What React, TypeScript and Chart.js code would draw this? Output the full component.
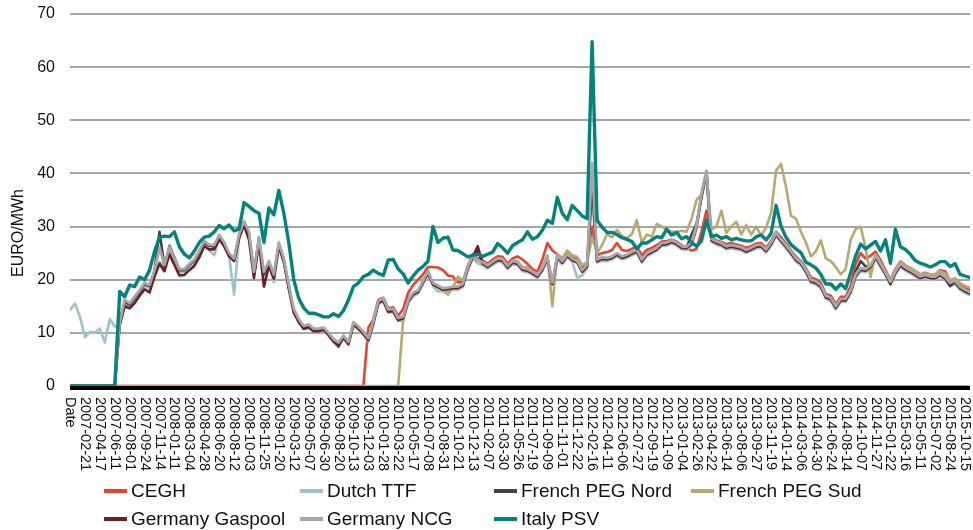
import React, { useEffect, useRef } from 'react';
import { Chart, registerables } from 'chart.js';

Chart.register(...registerables);

const tickLabels = ['Date','2007-02-21','2007-04-17','2007-06-11','2007-08-01','2007-09-24','2007-11-14','2008-01-11','2008-03-04','2008-04-28','2008-06-20','2008-08-12','2008-10-03','2008-11-25','2009-01-20','2009-03-12','2009-05-07','2009-06-30','2009-08-20','2009-10-13','2009-12-03','2010-01-28','2010-03-22','2010-05-17','2010-07-08','2010-08-31','2010-10-21','2010-12-13','2011-02-07','2011-03-30','2011-05-26','2011-07-19','2011-09-09','2011-11-01','2011-12-22','2012-02-16','2012-04-11','2012-06-06','2012-07-27','2012-09-19','2012-11-09','2013-01-04','2013-02-26','2013-04-22','2013-06-14','2013-08-06','2013-09-27','2013-11-19','2014-01-14','2014-03-06','2014-04-30','2014-06-24','2014-08-14','2014-10-07','2014-11-27','2015-01-22','2015-03-16','2015-05-11','2015-07-02','2015-08-24','2015-10-15'];

// samples between two consecutive tick labels
const samplesPerTick = 3;

const cegh = [
  0,0,0,0,0,0,0,0,0,0, 0,0,0,0,0,0,0,0,0,0, 0,0,0,0,0,0,0,0,0,0,
  0,0,0,0,0,0,0,0,0,0, 0,0,0,0,0,0,0,0,0,0, 0,0,0,0,0,0,0,0,0,0,
  11,12.5,16.2,16.6,14.6,14.8,13.2,14.5,17.5,19,
  20,21,22.4,22.4,22.3,21.8,20.8,20.6,19.5,19.6,
  22.6,24.8,24,23.6,23,23.8,24.4,24.3,23,24,
  24.4,23.8,23,22,21.5,23.8,26.9,25.5,24.8,24,
  25.2,24.4,24,22.4,23.3,30,24.6,25,25.2,25.6,
  26.9,25.6,25.4,25.8,26.2,24.6,25.6,26,26.5,27.2,
  27.3,27.5,27.2,26.5,26,25.5,25.8,29,33,28,
  27.4,27.1,26.7,26.9,26.6,26.4,26,26.3,26.8,26.9,
  26,27.3,29,28,26.8,25.5,24.3,23.5,22.2,20.4,
  20.1,19.4,17.3,17,15.4,16.8,16.8,18.8,23,25,
  24,24.5,25.3,23.7,21.8,20,22,23.4,22.7,22.2,
  21.6,21,21.3,21,21,21.8,21.6,19.8,20.2,19.1,18.5,18.1
];

const dutchTTF = [
  14.3,15.5,13,9.2,10.2,10,10.8,8.2,12.6,11.2,
  11.5,15.5,15,16.2,17.4,18.8,18.4,21.2,23.4,22.2,
  25.6,23.4,21.4,21.4,22.4,23.2,24.8,26.7,25.5,24.6,
  27.8,26.4,24.4,17.2,27.9,30.4,28.4,21,27.4,20.9,
  22.9,19.5,26.4,23.4,18.4,14,12,10.7,11,10.2,
  10.2,10.4,9.4,8.2,7.6,8.9,7.7,11.4,10.6,9.6,
  8.4,11.6,15.4,15.9,13.8,13.9,12.2,12.4,15.6,16.9,
  17.4,19.2,21,18.8,17.8,17.8,17.9,18.1,18.1,18.6,
  21.8,24,23.1,22.7,22.1,22.8,23.4,23.3,22,22.9,
  22.7,21.6,21.4,20.9,20.3,21.6,23.7,19,23.9,22.9,
  24.2,23.4,20.4,20.8,22.2,36,23.2,23.6,23.5,23.8,
  24.4,23.8,24.1,24.6,25,23.2,24.4,24.9,25.4,26.3,
  26.4,26.8,26.4,25.7,25.6,26.4,29.6,35.7,39.9,27.1,
  26.6,26.3,25.7,25.9,25.7,25.5,25,25.4,25.9,26,
  25.1,26.4,28.2,27,25.9,24.7,23.4,22.7,21.3,19.4,
  19.1,18.4,16.4,16,14.4,15.8,15.8,17.4,20.4,21.6,
  21.4,22.1,23.9,22.4,20.8,19,21,22.4,21.7,21.2,
  20.6,20,20.3,20,20,20.6,19.9,18.8,19.2,18.1,17.5,17.1
];

const frenchPEGNord = [
  0,0,0,0,0,0,0,0,0,0,
  12.2,15.8,15.3,16.6,17.8,19.2,18.8,21.6,29,22.5,
  26.4,24.2,21.8,21.8,22.8,23.6,25.2,27,26.4,26.2,
  28.2,26.8,24.8,23.8,28.2,30.8,28.6,21.2,27.7,21,
  23.2,20.8,26.7,23.7,18.8,14.2,12.4,11.1,11.4,10.6,
  10.6,10.8,9.8,8.5,7.4,9.3,8.1,11.8,11,10,
  8.8,12,15.8,16.3,14.2,14.3,12.6,12.8,16,17.3,
  17.8,19.6,21.4,19.2,18.7,18.2,18.3,18.5,18.5,19,
  22.2,24.4,25.5,23.1,22.5,23.2,23.8,23.7,22.4,23.3,
  23.1,22,21.8,21.3,20.7,22,24.1,19.3,24.3,23.3,
  24.6,23.8,23.3,21.6,22.6,38,23.6,24,23.9,24.2,
  24.8,24.2,24.5,25,25.4,23.6,24.8,25.3,25.8,26.7,
  26.8,27.2,26.8,26.1,26,28.5,30.5,35.5,40,27.5,
  27,26.7,26.1,26.3,26.1,25.9,25.4,25.8,26.3,26.4,
  25.5,26.8,28.6,27.4,26.3,25.1,23.8,23.1,21.7,19.8,
  19.5,18.8,16.8,16.4,14.8,16.2,16.2,17.8,21.5,23.5,
  22.5,22.5,24.3,22.8,21.2,19.4,21.4,22.8,22.1,21.6,
  21,20.4,20.7,20.4,20.4,21,20.3,18.8,19.6,18.5,17.9,17.5
];

const frenchPEGSud = [
  0,0,0,0,0,0,0,0,0,0, 0,0,0,0,0,0,0,0,0,0, 0,0,0,0,0,0,0,0,0,0,
  0,0,0,0,0,0,0,0,0,0, 0,0,0,0,0,0,0,0,0,0, 0,0,0,0,0,0,0,0,0,0,
  0,0,0,0,0,0,0,
  12.5,16,17.5,
  18,19.5,21.2,19.4,18.6,18,17.2,18.5,20.6,19.8,
  22.2,24.5,23.6,23.3,22.6,23.4,23.9,23.2,22.3,23.6,
  23.5,22.4,22.3,21.6,21,22.4,24.6,15,24.8,24,
  25.5,24.6,24.3,22.8,23.2,28,25,26.5,28.6,28,
  29.4,28.2,27.8,28.6,31.2,27,28.5,28.1,30.5,30,
  29.5,29,29,29.2,29,31.5,35,36,40,29.5,
  30,33,28.8,30,30.9,28.5,30.3,28.5,30,28.3,
  29.8,32.6,40.5,41.8,37.5,32,31.5,29,27,24.4,
  25.3,27.4,24,23.5,22.4,21,22,27.5,29.5,30,
  26,20.5,24.8,23.2,21.6,20,22,23.2,22.6,22.3,
  21.6,21,21.2,21,21,21.6,21.2,20,20.2,19.4,18.8,18.5
];

const germanyGaspool = [
  0,0,0,0,0,0,0,0,0,0,
  11.5,15,14.6,15.6,17,18.2,17.6,20.6,23,21.6,
  24.8,22.8,20.8,20.9,21.8,22.6,24.2,26.3,25.7,25.7,
  27.6,26.3,24.4,23.5,27.8,30.3,27.5,20.3,27,18.7,
  22.6,20.2,26.2,23.4,18.3,13.8,12,10.8,11,10.3,
  10.3,10.6,9.6,8.4,7.8,9.1,7.9,11.6,10.8,9.8,
  8.6,11.8,15.6,16.1,14,14.1,12.4,12.7,15.9,17.2,
  17.7,19.5,21.3,19.1,18.6,18.1,18.2,18.4,18.4,18.9,
  22.1,24.3,26.3,23,22.4,23.1,23.7,23.6,22.3,23.2,
  23,21.9,21.7,21.2,20.6,21.9,24,19.2,24.2,23.2,
  24.5,23.7,23.2,21.5,22.5,40,23.5,23.9,23.8,24.1,
  24.7,24.1,24.4,24.9,25.3,23.5,24.7,25.2,25.7,26.6,
  26.7,27.1,26.7,26,25.9,26.7,29.9,36,40.2,27.4,
  26.9,26.6,26,26.2,26,25.8,25.3,25.7,26.2,26.3,
  25.4,26.7,28.5,27.3,26.2,25,23.7,23,21.6,19.7,
  19.4,18.7,16.7,16.3,14.7,16.1,16.1,17.7,20.7,21.9,
  21.7,22.4,24.2,22.7,21.1,19.2,21.3,22.7,22,21.5,
  20.9,20.3,20.6,20.3,20.3,20.9,20.2,19.1,19.5,18.4,17.8,17.4
];

const germanyNCG = [
  0,0,0,0,0,0,0,0,0,0,
  12,16.2,15.6,16.8,18,19.4,19,21.8,26,22.8,
  26.2,24,22,22,23,23.8,25.4,27.3,26.6,26.5,
  28.4,27,25,24,28.5,31,29,21.5,28,21.5,
  23.5,21,27,24,19,14.5,12.6,11.3,11.6,10.8,
  10.8,11,10,8.8,8.2,9.5,8.3,12,11.2,10.2,
  9,12.2,16,16.5,14.4,14.5,12.8,13,16.2,17.5,
  18,19.8,21.6,19.4,18.9,18.4,18.5,18.7,18.7,19.2,
  22.4,24.6,23.7,23.3,22.7,23.4,24,23.9,22.6,23.5,
  23.3,22.2,22,21.5,20.9,22.2,24.3,19.5,24.5,23.5,
  24.8,24,23.5,21.8,22.8,42,23.8,24.2,24.1,24.4,
  25,24.4,24.7,25.2,25.6,23.8,25,25.5,26,26.9,
  27,27.4,27,26.3,26.2,27,30.2,36.3,40.5,27.7,
  27.2,26.9,26.3,26.5,26.3,26.1,25.6,26,26.5,26.6,
  25.7,27,28.8,27.6,26.5,25.3,24,23.3,21.9,20,
  19.7,19,17,16.6,15,16.4,16.4,18,21,22.2,
  22,22.7,24.5,23,21.4,19.6,21.6,23,22.3,21.8,
  21.2,20.6,20.9,20.6,20.6,21.2,20.5,19.4,19.8,18.7,18.1,17.7
];

const italyPSV = [
  0,0,0,0,0,0,0,0,0,0,
  17.8,16.8,19,18.7,20.5,20,21.8,25.3,28,28.2,
  28.1,29,26.2,24.8,24.1,25.4,27,28,28.2,29,
  30.2,29.6,30.3,29.2,29.5,34.5,33.8,33,32.5,27,
  33.5,32.2,36.8,32.5,27,20,16.5,14.7,13.7,13.7,
  13.4,13,13,13.6,13.1,14.2,16.2,18.7,19.4,20.6,
  21,21.8,21.2,20.8,23.7,23.8,22,21.1,19.4,20.7,
  21.8,22.5,23.5,30,27,27.8,28,25.6,25.5,24.9,
  24.3,24.6,24.8,24.4,24.8,25.2,26.8,26,25,26.4,
  27,27.5,29,27.6,28.1,29.3,31.2,30.6,35.5,32.5,
  31.3,34,33,32,31.5,64.8,31.2,29.9,28.9,28.9,
  28.5,27.9,27.6,27.2,25.8,26.9,26.9,27.5,28.1,27.9,
  29.5,28.4,28.9,27.7,28.1,27,26.3,27.3,31.2,28.1,
  28.4,27.8,28.1,27.5,27.8,27.5,27.3,27.3,28.1,28.4,
  27.5,28.7,34,30,28,26.6,25.8,25.1,23.3,22.8,
  22.2,21,19.2,19.2,18.2,19.2,18.3,21.3,24.5,26.7,
  25.8,26.5,27.2,25.4,27.5,23.1,29.5,26.2,25.7,24.8,
  23.6,23.1,22.8,22.4,22.8,23.4,23.4,22.5,23,21,20.7,20.4
];

const seriesNames = ['CEGH', 'Dutch TTF', 'French PEG Nord', 'French PEG Sud', 'Germany Gaspool', 'Germany NCG', 'Italy PSV'];
const seriesData = [cegh, dutchTTF, frenchPEGNord, frenchPEGSud, germanyGaspool, germanyNCG, italyPSV];

// styles (kept apart from the values)
const seriesColors = ['#E8412E', '#9DC3C6', '#3B444B', '#B8A96F', '#6E1F23', '#A5A7AA', '#00847D'];
const seriesWidths = [2.6, 2.6, 2.6, 2.6, 2.6, 2.8, 3.4];
const seriesOrder = [7, 6, 5, 4, 3, 2, 1];
const legendPos = [
  { left: 104, top: 491 },
  { left: 300, top: 491 },
  { left: 494, top: 491 },
  { left: 691, top: 491 },
  { left: 104, top: 519 },
  { left: 300, top: 519 },
  { left: 494, top: 519 },
];

const FONT = '"Liberation Sans", Arial, Helvetica, sans-serif';

const decorPlugin = {
  id: 'decor',
  beforeDatasetsDraw(chart: any) {
    const { ctx, chartArea } = chart;
    ctx.save();
    ctx.fillStyle = '#000000';
    ctx.fillRect(chartArea.left, chartArea.bottom, chartArea.right - chartArea.left, 4);
    ctx.restore();
  },
  afterDraw(chart: any) {
    const { ctx, chartArea, scales } = chart;
    const xs = scales.x;
    ctx.save();
    ctx.font = `14.5px ${FONT}`;
    ctx.fillStyle = '#111111';
    ctx.textAlign = 'left';
    ctx.textBaseline = 'middle';
    tickLabels.forEach((lab, i) => {
      const x = xs.getPixelForValue(i * samplesPerTick);
      ctx.save();
      ctx.translate(x, chartArea.bottom + 11);
      ctx.rotate(Math.PI / 2);
      ctx.fillText(lab, 0, 0);
      ctx.restore();
    });
    ctx.font = `16px ${FONT}`;
    ctx.textAlign = 'center';
    ctx.textBaseline = 'middle';
    ctx.translate(19, 233);
    ctx.rotate(-Math.PI / 2);
    ctx.fillText('EURO/MWh', 0, 0);
    ctx.restore();
  },
};

export default function App() {
  const canvasRef = useRef<HTMLCanvasElement | null>(null);

  useEffect(() => {
    if (!canvasRef.current) return;
    const datasets = seriesNames.map((name, s) => ({
      label: name,
      data: seriesData[s].map((y, i) => ({ x: i, y })),
      borderColor: seriesColors[s],
      backgroundColor: seriesColors[s],
      borderWidth: seriesWidths[s],
      pointRadius: 0,
      tension: 0,
      fill: false,
      order: seriesOrder[s],
      borderJoinStyle: 'round' as const,
      borderCapStyle: 'round' as const,
    }));
    const chart = new Chart(canvasRef.current, {
      type: 'line',
      data: { datasets },
      plugins: [decorPlugin],
      options: {
        responsive: false,
        animation: false,
        layout: { padding: { top: 14, right: 3, left: 0, bottom: 0 } },
        plugins: {
          legend: { display: false },
          tooltip: { enabled: false },
        },
        scales: {
          x: {
            type: 'linear',
            min: 0,
            max: germanyNCG.length - 1,
            grid: { display: false },
            border: { display: false },
            ticks: { display: false },
            afterFit: (scale: any) => { scale.height = 144; },
          },
          y: {
            min: 0,
            max: 70,
            grid: {
              color: '#A6A6A6',
              lineWidth: 2,
              drawTicks: true,
              tickLength: 15,
              tickColor: 'rgba(0,0,0,0)',
            },
            border: { display: false },
            ticks: {
              stepSize: 10,
              padding: 0,
              color: '#111111',
              font: { family: FONT, size: 16 },
            },
            afterFit: (scale: any) => { scale.width = 70; },
          },
        },
      },
    });
    return () => chart.destroy();
  }, []);

  return (
    <div style={{ position: 'fixed', left: 0, top: 0, width: 973, height: 530, background: '#ffffff', overflow: 'hidden' }}>
      <canvas ref={canvasRef} width={973} height={530} style={{ position: 'absolute', left: 0, top: 0, width: 973, height: 530 }} />
      {seriesNames.map((name, s) => (
        <div
          key={name}
          style={{
            position: 'absolute',
            left: legendPos[s].left,
            top: legendPos[s].top - 12,
            height: 24,
            display: 'flex',
            alignItems: 'center',
            whiteSpace: 'nowrap',
            fontFamily: FONT,
            fontSize: 19,
            color: '#111111',
          }}
        >
          <span style={{ display: 'inline-block', width: 23, height: 4, background: seriesColors[s], marginRight: 4 }} />
          <span>{name}</span>
        </div>
      ))}
    </div>
  );
}
